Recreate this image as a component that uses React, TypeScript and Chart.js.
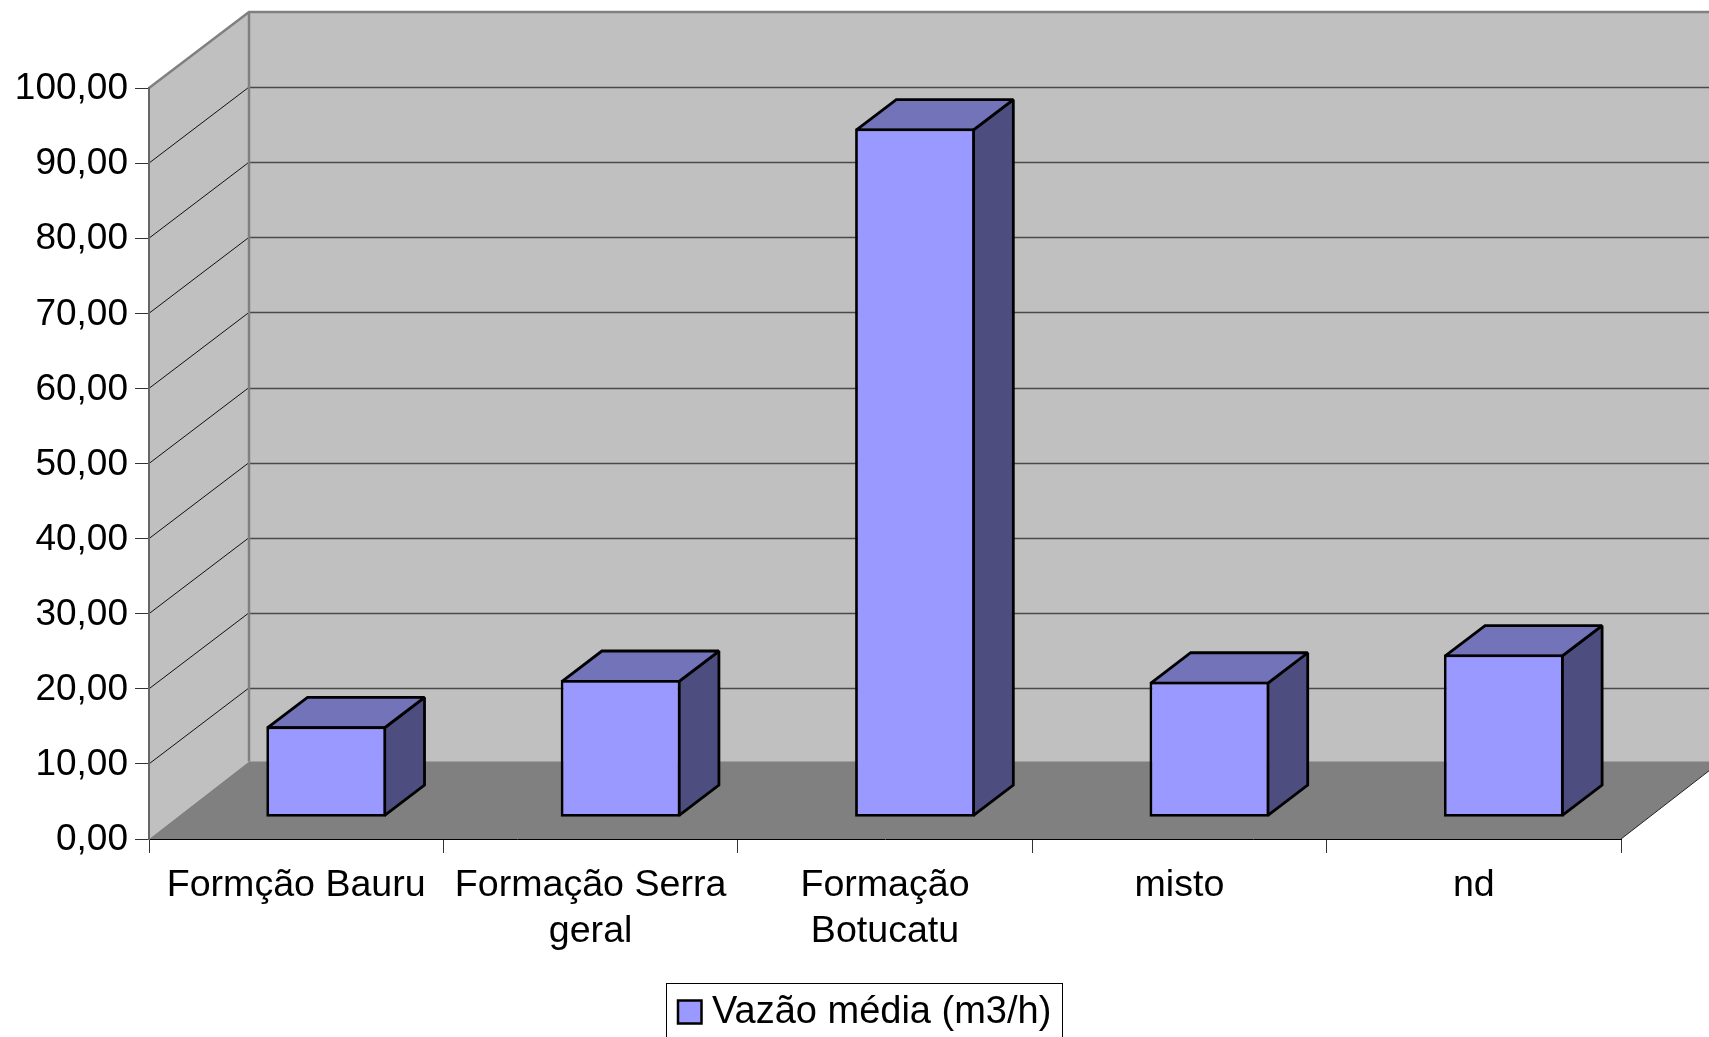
import React, { useEffect, useRef } from "react";
import { Chart, registerables } from "chart.js";

Chart.register(...registerables);

const categories: (string | string[])[] = [
  "Formção Bauru",
  ["Formação Serra", "geral"],
  ["Formação", "Botucatu"],
  "misto",
  "nd",
];
const vazaoMedia = [12.1, 18.28, 91.7, 18.05, 21.66];
const seriesName = "Vazão média (m3/h)";

const FONT = "'Liberation Sans', Arial, sans-serif";
const WALL_DX = 100;
const WALL_DY = 76;
const FLOOR_DY = 77.5;
const BAR_OFF_X = 30;
const BAR_OFF_Y = 21.8;
const BAR_DX = 39.8;
const BAR_DY = 30.3;
const BAR_LINE = 2.8;

const poly = (ctx: CanvasRenderingContext2D, pts: number[][]) => {
  ctx.beginPath();
  pts.forEach(([x, y], i) => (i ? ctx.lineTo(x, y) : ctx.moveTo(x, y)));
  ctx.closePath();
};

const scene3d = {
  id: "scene3d",
  afterLayout(chart: any) {
    const lg = chart.legend;
    lg.left = 668;
    lg.top = 994;
    lg.right = 1062;
    lg.bottom = 1037;
  },
  beforeDraw(chart: any) {
    const { ctx, chartArea: a, scales } = chart;
    const y = scales.y;
    const x0 = a.left;
    const y0 = y.getPixelForValue(0);
    const yT = y.getPixelForValue(100);
    const bx = x0 + WALL_DX;
    const bR = a.right + WALL_DX;
    ctx.save();
    ctx.fillStyle = "#c0c0c0";
    poly(ctx, [[x0, y0], [bx, y0 - FLOOR_DY], [bx, yT - WALL_DY], [x0, yT]]);
    ctx.fill();
    ctx.fillRect(bx, yT - WALL_DY, bR - bx, y0 - yT);
    ctx.fillStyle = "#808080";
    poly(ctx, [[x0, y0], [bx, y0 - FLOOR_DY], [bR, y0 - FLOOR_DY], [a.right, y0]]);
    ctx.fill();
    y.ticks.forEach((t: any) => {
      if (t.value === 0) return;
      const py = y.getPixelForValue(t.value);
      ctx.lineWidth = 1;
      ctx.strokeStyle = "#111111";
      ctx.beginPath();
      ctx.moveTo(x0, py);
      ctx.lineTo(bx, py - WALL_DY);
      ctx.stroke();
      if (t.value === 100) return;
      ctx.strokeStyle = "#4a4a4a";
      ctx.lineWidth = 1.4;
      const by = Math.round(py - WALL_DY) + 0.5;
      ctx.beginPath();
      ctx.moveTo(bx, by);
      ctx.lineTo(bR, by);
      ctx.stroke();
    });
    ctx.strokeStyle = "#808080";
    ctx.lineWidth = 2.5;
    ctx.beginPath();
    ctx.moveTo(x0, yT);
    ctx.lineTo(bx, yT - WALL_DY);
    ctx.lineTo(bR, yT - WALL_DY);
    ctx.moveTo(bx, yT - WALL_DY);
    ctx.lineTo(bx, y0 - FLOOR_DY);
    ctx.stroke();
    ctx.strokeStyle = "#222222";
    ctx.lineWidth = 1;
    ctx.beginPath();
    ctx.moveTo(a.right, y0);
    ctx.lineTo(bR, y0 - FLOOR_DY);
    ctx.stroke();
    ctx.restore();
  },
  beforeDatasetDraw(chart: any, args: any) {
    const { ctx } = chart;
    ctx.save();
    ctx.lineWidth = BAR_LINE;
    ctx.strokeStyle = "#000000";
    ctx.lineJoin = "miter";
    ctx.miterLimit = 2;
    const inset = BAR_LINE / 2;
    args.meta.data.forEach((el: any) => {
      const { x, y, base, width } = el.getProps(["x", "y", "base", "width"], true);
      const L = x - width / 2 + BAR_OFF_X + inset;
      const R = x + width / 2 + BAR_OFF_X - inset;
      const T = y - BAR_OFF_Y + inset;
      const B = base - BAR_OFF_Y - inset;
      ctx.fillStyle = "#4d4d80";
      poly(ctx, [[R, T], [R + BAR_DX, T - BAR_DY], [R + BAR_DX, B - BAR_DY], [R, B]]);
      ctx.fill();
      ctx.stroke();
      ctx.fillStyle = "#7373b9";
      poly(ctx, [[L, T], [L + BAR_DX, T - BAR_DY], [R + BAR_DX, T - BAR_DY], [R, T]]);
      ctx.fill();
      ctx.stroke();
    });
    ctx.translate(BAR_OFF_X, -BAR_OFF_Y);
  },
  afterDatasetDraw(chart: any) {
    chart.ctx.restore();
  },
  afterDraw(chart: any) {
    const { ctx, legend } = chart;
    ctx.save();
    ctx.lineWidth = 1;
    ctx.strokeStyle = "#000000";
    ctx.strokeRect(666.5, 983.5, 396, 80);
    ctx.fillStyle = "#9999ff";
    ctx.lineWidth = 2.5;
    ctx.fillRect(legend.left + 10, 1000.5, 23.5, 23);
    ctx.strokeRect(legend.left + 10, 1000.5, 23.5, 23);
    ctx.restore();
  },
};

export default function App() {
  const ref = useRef<HTMLCanvasElement>(null);
  useEffect(() => {
    const chart = new Chart(ref.current as HTMLCanvasElement, {
      type: "bar",
      data: {
        labels: categories as any,
        datasets: [
          {
            label: seriesName,
            data: vazaoMedia,
            backgroundColor: "#9999ff",
            borderColor: "#000000",
            borderWidth: BAR_LINE,
            borderSkipped: false,
            barPercentage: 0.407,
            categoryPercentage: 1,
            clip: false as any,
          },
        ],
      },
      options: {
        animation: false,
        responsive: false,
        layout: { padding: { left: 0, top: 88, right: 88, bottom: 0 } },
        plugins: {
          title: { display: false },
          tooltip: { enabled: false },
          legend: {
            display: true,
            position: "chartArea",
            align: "start",
            labels: {
              font: { family: FONT, size: 38 },
              color: "#000000",
              boxWidth: 25,
              boxHeight: 24,
              padding: 0,
              generateLabels: () => [
                {
                  text: seriesName,
                  fillStyle: "rgba(0,0,0,0)",
                  strokeStyle: "rgba(0,0,0,0)",
                  lineWidth: 0,
                  datasetIndex: 0,
                } as any,
              ],
            },
          },
        },
        scales: {
          x: {
            type: "category",
            afterFit(s: any) {
              s.height = 198;
            },
            grid: {
              drawOnChartArea: false,
              drawTicks: true,
              tickLength: 14,
              color: "#333333",
              offset: true,
            },
            border: { display: true, color: "#000000", width: 1 },
            ticks: {
              autoSkip: false,
              maxRotation: 0,
              minRotation: 0,
              padding: 10,
              color: "#000000",
              font: { family: FONT, size: 37.6, lineHeight: 1.22 },
            },
          },
          y: {
            type: "linear",
            min: 0,
            max: 100,
            afterFit(s: any) {
              s.width = 149;
            },
            grid: {
              drawOnChartArea: false,
              drawTicks: true,
              tickLength: 14,
              color: "#333333",
            },
            border: { display: true, color: "#666666", width: 2 },
            ticks: {
              stepSize: 10,
              padding: 7,
              labelOffset: 1,
              color: "#000000",
              font: { family: FONT, size: 37 },
              callback: (v: any) => Number(v).toFixed(2).replace(".", ","),
            },
          },
        },
      },
      plugins: [scene3d],
    } as any);
    return () => chart.destroy();
  }, []);
  return (
    <div style={{ position: "fixed", left: 0, top: 0, width: 1709, height: 1037, background: "#ffffff" }}>
      <canvas ref={ref} width={1709} height={1037} style={{ display: "block" }} />
    </div>
  );
}
